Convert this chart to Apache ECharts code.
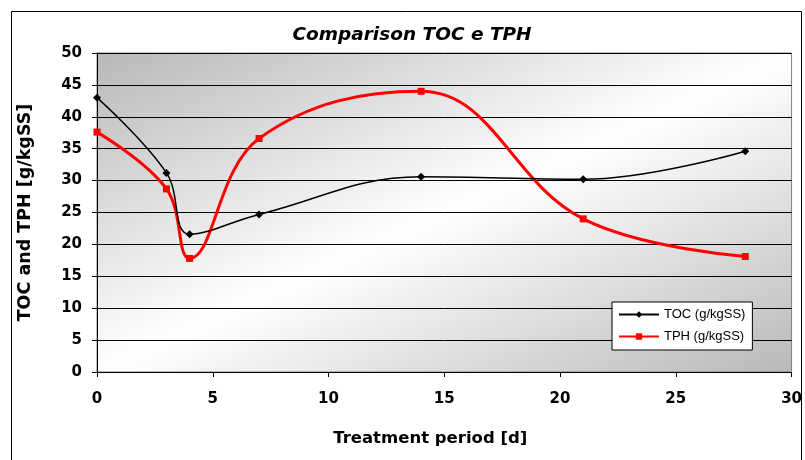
<!DOCTYPE html>
<html><head><meta charset="utf-8">
<script src="https://cdn.jsdelivr.net/npm/echarts@6/dist/echarts.min.js"></script>
<style>html,body{margin:0;padding:0;background:#fff}#c{width:805px;height:460px}</style>
</head><body><div id="c"></div>
<script>
var days = [0, 3, 4, 7, 14, 21, 28];
var tocValues = [43.0, 31.2, 21.6, 24.7, 30.6, 30.2, 34.6];
var tphValues = [37.6, 28.7, 17.8, 36.6, 44.0, 24.0, 18.1];
var seriesNames = ['TOC (g/kgSS)', 'TPH (g/kgSS)'];

function pairs(xs, ys){ return xs.map(function(x,i){ return [x, ys[i]]; }); }

var chart = echarts.init(document.getElementById('c'));
var font = '"DejaVu Sans", Verdana, sans-serif';
var lfont = '"Liberation Sans", Arial, sans-serif';
chart.setOption({
  animation: false,
  title: { text: 'Comparison TOC e TPH', left: 407, top: 21, textAlign: 'center',
    textStyle: { fontFamily: font, fontSize: 18.5, fontWeight: 'bold', fontStyle: 'italic', color: '#000' } },
  grid: { left: 97, right: 12, top: 53, bottom: 88, show: true, borderColor: '#808080', borderWidth: 1,
    backgroundColor: new echarts.graphic.LinearGradient(0, 0, 0.347, 1.653, [
      { offset: 0, color: '#b8b8b8' }, { offset: 0.5, color: '#ffffff' }, { offset: 1, color: '#b8b8b8' }]) },
  legend: { orient: 'vertical', left: 612, top: 302, backgroundColor: '#fff', borderColor: '#000', borderWidth: 1,
    padding: [6, 7, 7, 6], itemGap: 9, itemWidth: 40, itemHeight: 8,
    textStyle: { fontFamily: lfont, fontSize: 13, color: '#000' }, data: seriesNames },
  xAxis: { type: 'value', min: 0, max: 30, interval: 5, name: 'Treatment period [d]', nameLocation: 'middle', nameGap: 58,
    nameTextStyle: { fontFamily: font, fontSize: 16.5, fontWeight: 'bold', color: '#000', padding: [0, 28, 0, 0] },
    axisLine: { show: true, lineStyle: { color: '#000', width: 1 } },
    axisTick: { show: true, length: 5, lineStyle: { color: '#000' } },
    axisLabel: { fontFamily: font, fontSize: 15, fontWeight: 'bold', color: '#000', margin: 20 },
    splitLine: { show: false } },
  yAxis: { type: 'value', min: 0, max: 50, interval: 5, name: 'TOC and TPH [g/kgSS]', nameLocation: 'middle', nameGap: 63,
    nameTextStyle: { fontFamily: font, fontSize: 17.5, fontWeight: 'bold', color: '#000' },
    axisLine: { show: true, lineStyle: { color: '#000', width: 1 } },
    axisTick: { show: true, length: 5, lineStyle: { color: '#000' } },
    axisLabel: { fontFamily: font, fontSize: 15, fontWeight: 'bold', color: '#000', margin: 15 },
    splitLine: { show: true, lineStyle: { color: '#000', width: 1 } } },
  graphic: [{ type: 'rect', silent: true, z: 100, shape: { x: 11.5, y: 11.5, width: 790, height: 470 },
    style: { fill: null, stroke: '#000', lineWidth: 1 } }],
  series: [
    { name: seriesNames[0], type: 'line', data: pairs(days, tocValues), smooth: 0.4,
      symbol: 'diamond', symbolSize: 8, lineStyle: { color: '#000', width: 1.5 },
      itemStyle: { color: '#000' }, z: 3 },
    { name: seriesNames[1], type: 'line', data: pairs(days, tphValues), smooth: 0.4,
      symbol: 'rect', symbolSize: 7, lineStyle: { color: '#ff0000', width: 3 },
      itemStyle: { color: '#ff0000' }, z: 2 }
  ]
});
</script></body></html>
